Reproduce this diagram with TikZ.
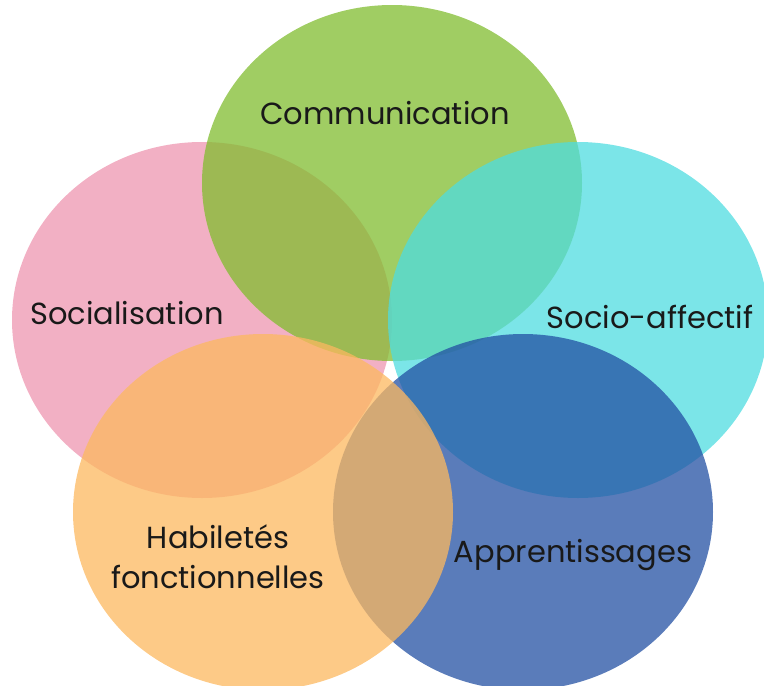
\documentclass[tikz,border=0pt]{standalone}
\usepackage{fontspec}
\setmainfont{Poppins}
\usetikzlibrary{shapes.geometric}
\definecolor{cpink}{RGB}{238,150,176}
\definecolor{cgreen}{RGB}{128,188,47}
\definecolor{ccyan}{RGB}{79,220,224}
\definecolor{cblue}{RGB}{35,80,163}
\definecolor{corange}{RGB}{252,184,95}
\tikzset{
  blob/.style={ellipse, draw=none, inner sep=0pt, fill opacity=0.75,
    minimum width=380pt, minimum height=356pt},
  lbl/.style={text=black!90, font=\fontsize{30.5}{40}\selectfont, inner sep=0pt, anchor=base}
}
\begin{document}
\begin{tikzpicture}[x=1pt,y=-1pt]
\useasboundingbox (0,0) rectangle (764,686);
\node[blob, fill=cpink] (soc) at (202,320) {};
\node[blob, fill=cgreen] (com) at (392,183) {};
\node[blob, fill=ccyan] (aff) at (578,320) {};
\node[blob, fill=cblue] (app) at (523,512) {};
\node[blob, fill=corange] (hab) at (263,512) {};
\node[lbl] (tcom) at (385,124) {Communication};
\node[lbl] (tsoc) at (127,324) {Socialisation};
\node[lbl] (taff) at (650,328) {Socio-affectif};
\node[lbl] (thab) at (218,548) {Habiletés};
\node[lbl] (thabb) at (218,588) {fonctionnelles};
\node[lbl] (tapp) at (573,562) {Apprentissages};
\end{tikzpicture}
\end{document}
